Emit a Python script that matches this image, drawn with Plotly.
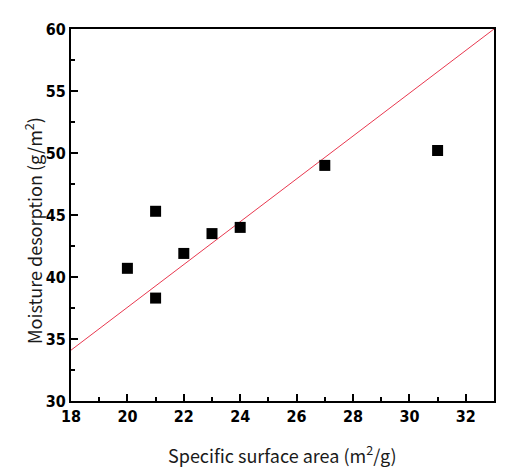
import plotly.graph_objects as go

surface_area = [20, 21, 21, 22, 23, 24, 27, 31]
moisture = [40.7, 45.3, 38.3, 41.9, 43.5, 44.0, 49.0, 50.2]
line_x = [18, 33]
line_y = [34.1, 60.0]

fig = go.Figure()
fig.add_trace(go.Scatter(x=line_x, y=line_y, mode="lines",
                         line=dict(color="#e8384f", width=1), showlegend=False))
fig.add_trace(go.Scatter(x=surface_area, y=moisture, mode="markers",
                         marker=dict(symbol="square", size=11, color="black"),
                         showlegend=False))

tickfont = dict(family="DejaVu Sans Condensed", size=16, color="black", weight="bold")
titlefont = dict(family="Noto Sans CJK KR, sans-serif", size=18, color="#1a1a1a")

fig.update_layout(
    width=514, height=467,
    margin=dict(l=63, r=28, t=21, b=74, autoexpand=False),
    plot_bgcolor="white", paper_bgcolor="white",
    xaxis=dict(range=[18, 33], tickvals=list(range(18, 34, 2)), ticks="inside", ticklen=7,
               tickwidth=2, tickcolor="black", showline=True, linewidth=2, linecolor="black",
               mirror=True, showgrid=False, zeroline=False, tickfont=tickfont, automargin=False,
               minor=dict(dtick=1, ticks="inside", ticklen=4, tickwidth=2, tickcolor="black")),
    yaxis=dict(range=[30, 60], tickvals=list(range(30, 61, 5)), ticks="inside", ticklen=7,
               tickwidth=2, tickcolor="black", showline=True, linewidth=2, linecolor="black",
               mirror=True, showgrid=False, zeroline=False, tickfont=tickfont, automargin=False,
               minor=dict(dtick=2.5, ticks="inside", ticklen=4, tickwidth=2, tickcolor="black")),
    annotations=[
        dict(text="Specific surface area (m<sup>2</sup>/g)", xref="paper", yref="paper",
             x=0.5, y=0, yshift=-53, xanchor="center", yanchor="middle",
             showarrow=False, font=titlefont),
        dict(text="Moisture desorption (g/m<sup>2</sup>)", xref="paper", yref="paper",
             x=0, y=0.457, xshift=-38, xanchor="center", yanchor="middle", textangle=-90,
             showarrow=False, font=titlefont),
    ],
)
fig.write_html("out.html")
